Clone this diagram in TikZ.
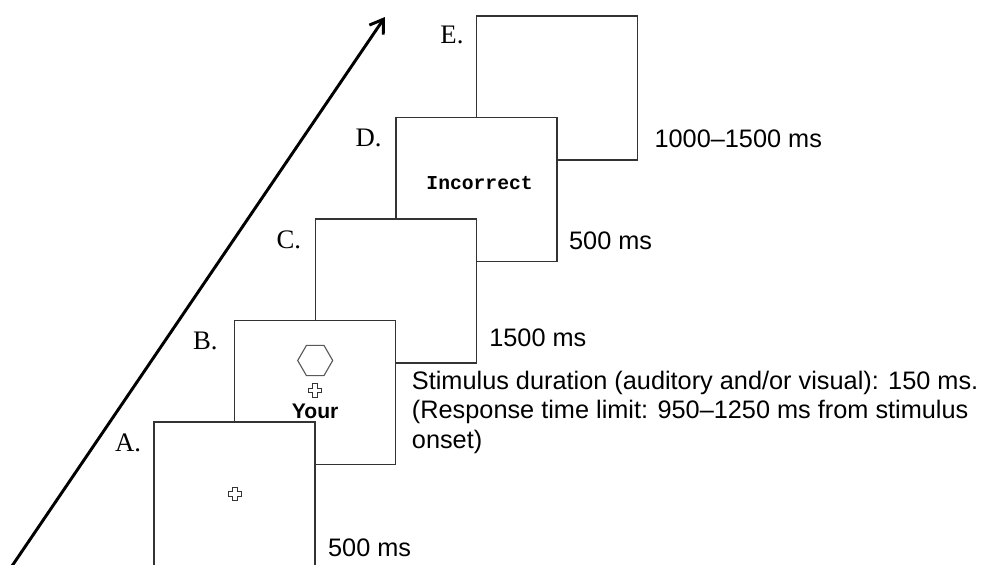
\documentclass[tikz,border=0pt]{standalone}
\usepackage{fontspec}
\setmainfont{Liberation Serif}
\setsansfont{Liberation Sans}
\setmonofont{Liberation Mono}
\usetikzlibrary{shapes.geometric, arrows.meta, positioning}
\tikzstyle{screen} = [rectangle, minimum width=4.025cm, minimum height=3.6cm, draw=black!80, line width=1.1pt, fill=white]
\tikzstyle{hexagon} = [regular polygon, regular polygon sides=6, minimum size=0.875cm, inner sep=0pt, draw=black!65, line width=0.8pt]
\tikzstyle{steplabel} = [font=\fontsize{19}{22}\selectfont, anchor=base east, inner sep=0pt]
\tikzstyle{duration} = [font=\sffamily\fontsize{18}{21}\selectfont, anchor=base west, inner sep=0pt]
\tikzstyle{timearrow} = [line width=2.1pt, -{Straight Barb[length=3.2mm, width=4.2mm]}]
\tikzset{fixcross/.pic={
  \draw[line width=0.6pt, black!80] (-0.06,-0.165) -- (0.06,-0.165) -- (0.06,-0.06) -- (0.165,-0.06) -- (0.165,0.06) -- (0.06,0.06) -- (0.06,0.165) -- (-0.06,0.165) -- (-0.06,0.06) -- (-0.165,0.06) -- (-0.165,-0.06) -- (-0.06,-0.06) -- cycle;
}}

\begin{document}
\begin{tikzpicture}[node distance=2.015cm]
\clip (0,0) rectangle (24.725,14.1);

% Time axis
\coordinate (tstart) at (0.3,-0.05);
\coordinate (tend) at (9.625,13.675);
\draw [timearrow] (tstart) -- (tend);

% Screens (back to front)
\node (E) [screen] at (13.925,11.9) {};
\node (D) [screen, left of=E, yshift=-2.5375cm] {};
\node (C) [screen, left of=D, yshift=-2.5375cm] {};
\node (B) [screen, left of=C, yshift=-2.5375cm] {};
\node (A) [screen, left of=B, yshift=-2.5375cm] {};

% Screen contents
\pic (crossA) at (A.center) {fixcross};
\node (hexB) [hexagon] at ([yshift=0.8cm]B.center) {};
\pic (crossB) at ([yshift=0.05cm]B.center) {fixcross};
\node (wordB) [font=\sffamily\bfseries\fontsize{15}{18}\selectfont, anchor=base, inner sep=0pt] at ([yshift=-0.65cm]B.center) {Your};
\node (feedD) [font=\ttfamily\bfseries\fontsize{14}{16}\selectfont, anchor=base, inner sep=0pt] at ([xshift=0.08cm]D.center) {Incorrect};

% Step labels
\node (labA) [steplabel] at ([xshift=-0.3cm, yshift=-0.75cm]A.north west) {A.};
\node (labB) [steplabel] at ([xshift=-0.4cm, yshift=-0.75cm]B.north west) {B.};
\node (labC) [steplabel] at ([xshift=-0.33cm, yshift=-0.75cm]C.north west) {C.};
\node (labD) [steplabel] at ([xshift=-0.33cm, yshift=-0.75cm]D.north west) {D.};
\node (labE) [steplabel] at ([xshift=-0.3cm, yshift=-0.7cm]E.north west) {E.};

% Durations
\node (durA) [duration] at ([xshift=0.3cm, yshift=0.25cm]A.south east) {500 ms};
\node (durB) [duration, align=left] at ([xshift=0.38cm, yshift=0.43cm]B.south east) {Stimulus duration (auditory and/or visual): 150 ms.\\(Response time limit: 950--1250 ms from stimulus\\onset)};
\node (durC) [duration] at ([xshift=0.3cm, yshift=0.42cm]C.south east) {1500 ms};
\node (durD) [duration] at ([xshift=0.28cm, yshift=0.33cm]D.south east) {500 ms};
\node (durE) [duration] at ([xshift=0.4cm, yshift=0.33cm]E.south east) {1000--1500 ms};

\end{tikzpicture}
\end{document}
